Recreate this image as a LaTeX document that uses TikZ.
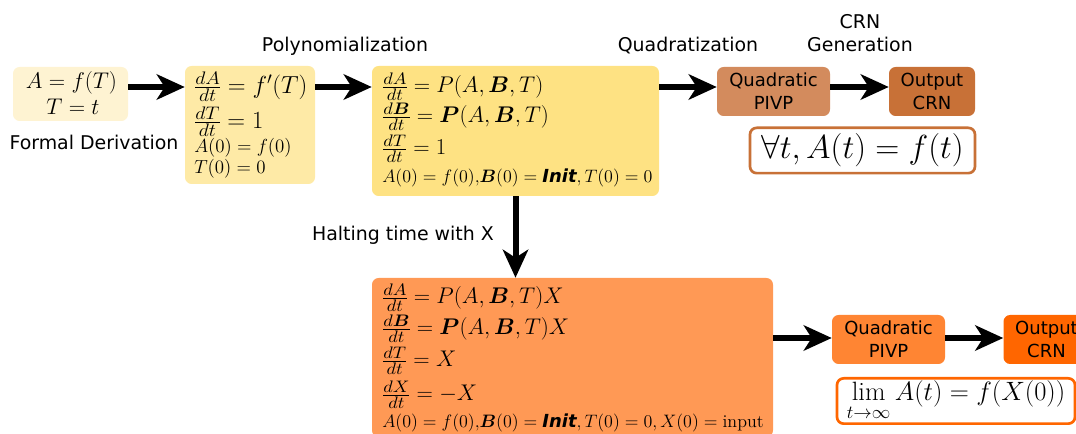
\RequirePackage{fix-cm}
\documentclass[tikz,border=0pt]{standalone}
\usepackage{amsmath,bm}
\usepackage{fontspec}
\setsansfont{DejaVu Sans}
\newcommand\fsz[1]{\scalebox{1.15}[1.05]{$\scriptstyle #1$}}
\newcommand\fr[2]{\mathord{\kern0.8pt\vcenter{\offinterlineskip\halign{\hfil##\hfil\cr\fsz{#1}\cr\noalign{\kern1.3pt\hrule height0.55pt\kern1.3pt}\fsz{#2}\cr}}\kern0.8pt}}
\usetikzlibrary{arrows.meta}
\definecolor{cA}{HTML}{FEF3D2}
\definecolor{cB}{HTML}{FEEAA6}
\definecolor{cC}{HTML}{FEE283}
\definecolor{cQ}{HTML}{D38B5D}
\definecolor{cO}{HTML}{C87137}
\definecolor{cD}{HTML}{FF9955}
\definecolor{cQb}{HTML}{FF8533}
\definecolor{cOb}{HTML}{FF6600}
\begin{document}
\begin{tikzpicture}[x=0.75pt,y=-0.75pt,
  lbl/.style={font=\sffamily\fontsize{14.2}{17.25}\selectfont, inner sep=0, align=center},
  blbl/.style={font=\sffamily\fontsize{13.5}{17.25}\selectfont, align=center},
  box/.style={rounded corners=5pt, inner sep=0},
  eq/.style={anchor=west, inner sep=0, font=\fontsize{17}{20}\selectfont},
  ic/.style={anchor=west, inner sep=0, font=\fontsize{13.5}{16}\selectfont},
  arr/.style={line width=4.5pt, -{Stealth[length=21pt,width=19pt,inset=6pt]}},
  fbox/.style={box, line width=2pt, fill=white, minimum height=34pt}
  ]
\useasboundingbox (0,0) rectangle (1076,434);
\clip (0,0) rectangle (1076,434);
% top row boxes
\node[box, fill=cA, minimum width=86.25pt, minimum height=40.5pt] (b1) at (70.5,94) {};
\node[inner sep=0, font=\fontsize{17}{20}\selectfont] (b1a) at (71.5,83) {$A=f(T)$};
\node[inner sep=0, font=\fontsize{17}{20}\selectfont] (b1b) at (73,107) {$T=t$};
\node[lbl] (lform) at (94,142) {Formal Derivation};

\node[box, fill=cB, minimum width=97.5pt, minimum height=88.5pt] (b2) at (250,125) {};
\node[eq, font=\fontsize{18.5}{22}\selectfont] (e21) at (194,87) {$\fr{dA}{dt}=f'(T)$};
\node[eq, font=\fontsize{18.5}{22}\selectfont] (e22) at (194,122) {$\fr{dT}{dt}=1$};
\node[ic, font=\fontsize{14.2}{16}\selectfont] (e23) at (194,148) {$A(0)=f(0)$};
\node[ic, font=\fontsize{14.2}{16}\selectfont] (e24) at (194,169) {$T(0)=0$};

\node[box, fill=cC, minimum width=215.25pt, minimum height=97.5pt] (b3) at (515.5,131) {};
\node[eq] (e31) at (382,87) {$\fr{dA}{dt}=P(A,\boldsymbol{B},T)$};
\node[eq] (e32) at (382,117) {$\fr{d\boldsymbol{B}}{dt}=\boldsymbol{P}(A,\boldsymbol{B},T)$};
\node[eq] (e33) at (382,149) {$\fr{dT}{dt}=1$};
\node[ic] (e34) at (382,178) {$A(0)=f(0){,}\boldsymbol{B}(0)=\textsf{\bfseries\itshape Init},T(0)=0$};

\node[box, fill=cQ, minimum width=84.75pt, minimum height=36.75pt, blbl] (q1) at (773.5,91.5) {Quadratic\\PIVP};
\node[box, fill=cO, minimum width=64.5pt, minimum height=36.75pt, blbl] (o1) at (932,91.5) {Output\\CRN};
\node[fbox, draw=cO, minimum width=168.75pt, font=\fontsize{25}{30}\selectfont] (f1) at (862.5,150.5) {$\forall t, A(t)=f(t)$};

\node[lbl] (lpoly) at (345,46) {Polynomialization};
\node[lbl] (lquad) at (688,46) {Quadratization};
\node[lbl] (lcrn) at (860,33) {CRN\\Generation};
\node[lbl] (lhalt) at (403,235) {Halting time with X};

% bottom row
\node[box, fill=cD, minimum width=300.75pt, minimum height=119.25pt] (b4) at (572.5,357.5) {};
\node[eq] (e41) at (382,298) {$\fr{dA}{dt}=P(A,\boldsymbol{B},T)X$};
\node[eq] (e42) at (382,329) {$\fr{d\boldsymbol{B}}{dt}=\boldsymbol{P}(A,\boldsymbol{B},T)X$};
\node[eq] (e43) at (382,361) {$\fr{dT}{dt}=X$};
\node[eq] (e44) at (382,395) {$\fr{dX}{dt}=-X$};
\node[ic] (e45) at (382,423) {$A(0)=f(0){,}\boldsymbol{B}(0)=\textsf{\bfseries\itshape Init},T(0)=0,X(0)=\mathrm{input}$};

\node[box, fill=cQb, minimum width=84.75pt, minimum height=36.75pt, blbl] (q2) at (888.5,339.5) {Quadratic\\PIVP};
\node[box, fill=cOb, minimum width=64.5pt, minimum height=36.75pt, blbl] (o2) at (1046.5,339.5) {Output\\CRN};
\node[fbox, draw=cOb, minimum width=178.5pt, font=\fontsize{19.2}{22}\selectfont] (f2) at (956,401) {\scalebox{1.035}{$\displaystyle\lim_{t\to\infty}A(t)=f(X(0))$}};

% arrows
\coordinate (row1) at (0,87);
\coordinate (row2) at (0,338);
\draw[arr] (b1.east |- row1) -- (b2.west |- row1);
\draw[arr] (b2.east |- row1) -- (b3.west |- row1);
\draw[arr] (b3.east |- row1) -- (q1.west |- row1);
\draw[arr] (q1.east |- row1) -- (o1.west |- row1);
\draw[arr] (b3.south) -- (b3.south |- b4.north);
\draw[arr] (b4.east |- row2) -- (q2.west |- row2);
\draw[arr] (q2.east |- row2) -- (o2.west |- row2);
\end{tikzpicture}
\end{document}
